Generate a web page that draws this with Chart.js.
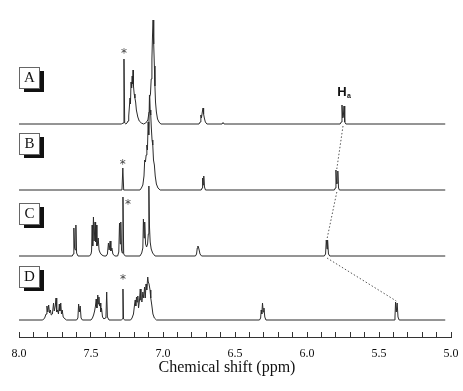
<!DOCTYPE html>
<html>
<head>
<meta charset="utf-8">
<script src="https://cdn.jsdelivr.net/npm/chart.js@4.4.1/dist/chart.umd.min.js"></script>
<style>
  html, body { margin: 0; padding: 0; background: #ffffff; }
  #wrap { position: relative; width: 463px; height: 391px; }
  canvas { display: block; }
</style>
</head>
<body>
<div id="wrap"><canvas id="c" width="463" height="391"></canvas></div>
<script>
// ---- data (ppm, relative intensity) ----
const traceNames = ['A', 'B', 'C', 'D'];

const spectrumA = [
  [8.00,0],[7.29,0],[7.276,1],[7.271,65],[7.266,1],[7.258,0],
  [7.25,1],[7.243,3],[7.238,8],[7.233,18],[7.229,26],[7.226,20],[7.222,42],[7.218,36],[7.214,48],[7.211,40],[7.208,54],[7.205,38],[7.2,30],[7.195,26],[7.19,22],[7.185,14],[7.175,7],[7.165,3],[7.15,1],[7.135,0],
  [7.12,1],[7.105,4],[7.097,12],[7.092,27],[7.087,30],[7.082,45],[7.077,65],[7.073,88],[7.069,104],[7.066,96],[7.063,80],[7.06,58],[7.056,38],[7.052,22],[7.046,12],[7.038,5],[7.028,2],[7.015,0],
  [6.75,0],[6.742,2],[6.737,9],[6.733,6],[6.727,12],[6.722,16],[6.718,10],[6.713,6],[6.706,2],[6.695,0],
  [6.59,0],[6.583,1.5],[6.576,0],
  [5.77,0],[5.762,2],[5.757,19],[5.752,6],[5.748,7],[5.743,18],[5.738,2],[5.73,0],
  [5.04,0]
];

const spectrumB = [
  [8.00,0],[7.285,0],[7.279,22],[7.273,0],
  [7.16,0],[7.15,2],[7.14,5],[7.132,14],[7.127,30],[7.122,28],[7.117,35],[7.112,45],[7.108,40],[7.103,68],[7.099,55],[7.094,95],[7.09,80],[7.085,75],[7.081,62],[7.076,50],[7.071,45],[7.066,30],[7.06,25],[7.054,14],[7.046,6],[7.035,2],[7.02,0],
  [6.735,0],[6.728,2],[6.725,12],[6.721,5],[6.717,14],[6.712,3],[6.705,0],
  [5.81,0],[5.803,2],[5.799,20],[5.794,6],[5.79,7],[5.786,19],[5.781,2],[5.775,0],
  [5.04,0]
];

const spectrumC = [
  [8.00,0],[7.63,0],[7.623,2],[7.619,28],[7.614,8],[7.609,6],[7.605,31],[7.6,3],[7.59,0],
  [7.51,0],[7.5,2],[7.496,5],[7.492,31],[7.488,10],[7.483,39],[7.478,15],[7.472,34],[7.468,14],[7.464,31],[7.459,10],[7.455,12],[7.45,18],[7.444,6],[7.436,3],[7.425,1],[7.41,0],
  [7.395,0],[7.386,2],[7.379,13],[7.374,6],[7.367,15],[7.362,5],[7.355,8],[7.348,2],[7.335,0],
  [7.315,0],[7.307,4],[7.302,33],[7.297,12],[7.293,34],[7.288,6],[7.283,3],[7.278,59],[7.273,2],[7.262,0],
  [7.16,0],[7.148,3],[7.14,8],[7.136,37],[7.131,18],[7.127,34],[7.121,12],[7.114,9],[7.107,12],[7.102,22],[7.098,70],[7.094,30],[7.089,14],[7.082,7],[7.072,3],[7.055,0],
  [6.775,0],[6.767,2],[6.762,8],[6.758,10],[6.754,9],[6.749,6],[6.743,2],[6.732,0],
  [5.88,0],[5.871,2],[5.866,16],[5.861,7],[5.857,16],[5.851,2],[5.842,0],
  [5.04,0]
];

const spectrumD = [
  [8.00,0],[7.835,0],[7.822,2],[7.812,6],[7.806,14],[7.8,8],[7.794,15],[7.788,7],[7.782,10],[7.776,5],[7.768,6],[7.76,17],[7.755,9],[7.748,14],[7.743,22],[7.738,8],[7.732,10],[7.726,6],[7.72,16],[7.716,9],[7.71,17],[7.705,6],[7.7,10],[7.693,3],[7.68,1],[7.67,0],
  [7.6,0],[7.591,2],[7.586,16],[7.581,8],[7.575,14],[7.569,2],[7.56,0],
  [7.5,0],[7.49,2],[7.482,5],[7.475,9],[7.469,14],[7.464,21],[7.459,12],[7.453,25],[7.449,16],[7.445,23],[7.441,14],[7.437,17],[7.432,8],[7.427,12],[7.42,3],[7.41,1],[7.402,2],[7.396,4],[7.391,28],[7.386,3],[7.375,0],
  [7.29,0],[7.282,1],[7.278,31],[7.274,1],[7.265,0],
  [7.225,0],[7.215,2],[7.205,6],[7.197,16],[7.193,20],[7.189,14],[7.184,23],[7.18,18],[7.175,24],[7.17,12],[7.163,20],[7.158,31],[7.153,20],[7.146,18],[7.14,28],[7.134,22],[7.128,33],[7.123,22],[7.118,36],[7.113,30],[7.106,43],[7.102,38],[7.097,36],[7.09,30],[7.085,22],[7.078,15],[7.07,6],[7.06,2],[7.045,0],
  [6.33,0],[6.322,2],[6.318,10],[6.314,6],[6.309,17],[6.304,8],[6.299,12],[6.293,3],[6.285,0],
  [5.395,0],[5.389,3],[5.385,18],[5.38,8],[5.374,17],[5.368,3],[5.36,0],
  [5.04,0]
];

// solvent (CDCl3, marked *) peak: shift and height per trace
const solventShift = [7.271, 7.279, 7.278, 7.278];
const solventHeight = [65, 22, 59, 31];

// H_a signal: shift and height per trace
const haShift  = [5.750, 5.793, 5.861, 5.380];
const haHeight = [19, 20, 16, 18];

// axis
const axisMin = 5.0, axisMax = 8.0, minorStep = 0.1, majorStep = 0.5;
const axisTitle = 'Chemical shift (ppm)';

// ---- layout (not data) ----
const spectra = [spectrumA, spectrumB, spectrumC, spectrumD];
const traceOffset = [213, 147, 81, 17];         // stacking offsets in y units
const yMax = 337;
const lineColor = '#2b2b2b';

const datasets = spectra.map((s, i) => ({
  label: traceNames[i],
  data: s.map(p => ({ x: p[0], y: p[1] + traceOffset[i] })),
  borderColor: lineColor,
  borderWidth: 1,
  pointRadius: 0,
  tension: 0,
  fill: false
}));

// dotted connector between H_a signals
const connector = [];
for (let i = 0; i < haShift.length - 1; i++) {
  connector.push({ x: haShift[i], y: traceOffset[i] - 2 });
  connector.push({ x: haShift[i + 1], y: traceOffset[i + 1] + haHeight[i + 1] + 1 });
  connector.push({ x: haShift[i + 1], y: null });
}
datasets.push({
  label: 'Ha',
  data: connector,
  borderColor: '#555',
  borderWidth: 1,
  borderDash: [1.5, 2],
  pointRadius: 0,
  spanGaps: false,
  tension: 0
});

const boxPos = [[19, 67], [19, 133], [19, 203], [19, 266]];
const starOffset = [[0, -7], [0, -5], [5, 6], [0, -11]];

const annotations = {
  id: 'annotations',
  afterDatasetsDraw(chart) {
    const ctx = chart.ctx;
    const xs = chart.scales.x, ys = chart.scales.y;
    ctx.save();
    // label boxes with shadow
    traceNames.forEach((n, i) => {
      const [bx, by] = boxPos[i];
      ctx.fillStyle = '#111';
      ctx.fillRect(bx + 5, by + 4, 20, 21);
      ctx.fillStyle = '#fff';
      ctx.fillRect(bx, by, 20, 21);
      ctx.strokeStyle = '#666';
      ctx.lineWidth = 1;
      ctx.strokeRect(bx + 0.5, by + 0.5, 20, 21);
      ctx.fillStyle = '#111';
      ctx.font = '15px "Liberation Serif"';
      ctx.textAlign = 'center';
      ctx.textBaseline = 'middle';
      ctx.fillText(n, bx + 10.5, by + 11.5);
    });
    // asterisks over solvent peaks
    ctx.font = '12px "DejaVu Sans"';
    ctx.fillStyle = '#444';
    ctx.textAlign = 'center';
    ctx.textBaseline = 'middle';
    solventShift.forEach((s, i) => {
      const px = xs.getPixelForValue(s) + starOffset[i][0];
      const py = ys.getPixelForValue(traceOffset[i] + solventHeight[i]) + starOffset[i][1];
      ctx.fillText('*', px, py + 2);
    });
    // H_a label
    const hx = xs.getPixelForValue(haShift[0]);
    const hy = ys.getPixelForValue(traceOffset[0] + haHeight[0]);
    ctx.fillStyle = '#111';
    ctx.font = 'bold 13px "Liberation Sans"';
    ctx.fillText('H', hx - 1, hy - 13);
    ctx.font = 'bold 7px "Liberation Sans"';
    ctx.fillText('a', hx + 6, hy - 9);
    ctx.restore();
  }
};

new Chart(document.getElementById('c'), {
  type: 'line',
  data: { datasets },
  plugins: [annotations],
  options: {
    responsive: false,
    animation: false,
    events: [],
    layout: { padding: { left: 19, right: 12, top: 0, bottom: 0 } },
    plugins: { legend: { display: false }, tooltip: { enabled: false } },
    scales: {
      x: {
        type: 'linear',
        reverse: true,
        min: axisMin,
        max: axisMax,
        ticks: {
          stepSize: minorStep,
          autoSkip: false,
          maxRotation: 0,
          padding: 3,
          color: '#111',
          font: { family: '"Liberation Serif"', size: 12, lineHeight: 38 / 12 },
          callback: (v) => {
            const k = Math.round(v / minorStep);
            return (k % Math.round(majorStep / minorStep) === 0) ? (k * minorStep).toFixed(1) : '';
          }
        },
        grid: { drawOnChartArea: false, tickLength: -5, color: '#333', tickWidth: 1 },
        border: { color: '#333', width: 1 },
        title: {
          display: true,
          text: axisTitle + '    ',
          color: '#111',
          font: { family: '"Liberation Serif"', size: 16 },
          padding: { top: -17.6, bottom: 13.4 }
        }
      },
      y: { display: false, min: 0, max: yMax }
    }
  }
});
</script>
</body>
</html>
